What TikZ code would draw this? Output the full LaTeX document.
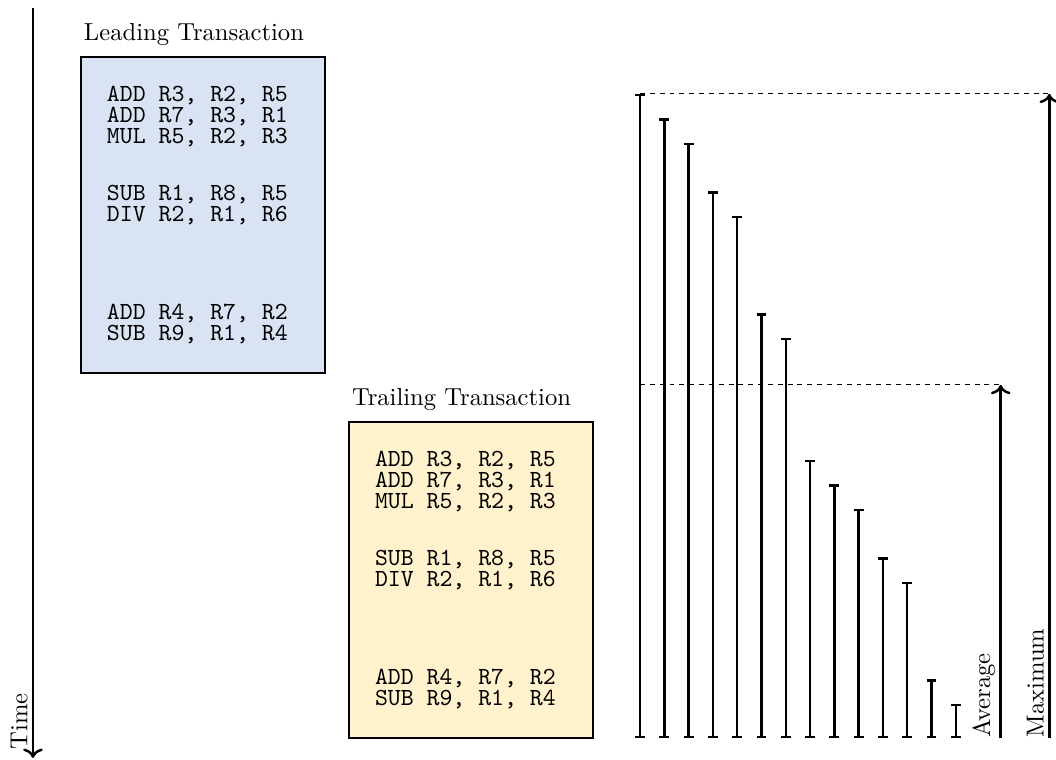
\documentclass[tikz,border=0pt]{standalone}
\usepackage[dvipsnames]{xcolor}
\usetikzlibrary{arrows.meta,positioning}

\definecolor{leadblue}{HTML}{DAE3F3}
\definecolor{trailyellow}{HTML}{FFF2CC}

% same instruction stream in both transactions
\newcommand{\instrlist}{%
  \spaceskip=0.525em\relax
  \baselineskip=8.5pt\lineskiplimit=-\maxdimen
  ADD R3, R2, R5\\
  ADD R7, R3, R1\\
  MUL R5, R2, R3\\[14.8pt]
  SUB R1, R8, R5\\
  DIV R2, R1, R6\\[31.1pt]
  ADD R4, R7, R2\\
  SUB R9, R1, R4\par\vspace{2pt}}

\begin{document}
\begin{tikzpicture}[
    txbox/.style={draw, line width=1pt, text width=2.743cm, inner xsep=0.371cm,
      minimum height=4.514cm, align=left, font=\ttfamily},
    txtitle/.style={inner xsep=1.5pt, inner ysep=4pt},
    gapbar/.style={line width=1pt, {Bar[width=4pt]}-{Bar[width=4pt]}},
    sidelabel/.style={rotate=90, anchor=south west, inner xsep=0pt, inner ysep=2pt}
]
    \useasboundingbox (0,0) rectangle (15.086,10.857);

    % Time axis
    \draw[line width=1pt, ->] (0.471,10.743) -- (0.471,0.029);
    \node[sidelabel] (timelabel) at (0.471,0.143) {Time};

    % Leading and trailing transactions
    \node[txbox, fill=leadblue] (lead) at (2.9,7.786) {\instrlist};
    \node[txtitle, above right=0pt of lead.north west] (leadtitle) {Leading Transaction};
    \node[txbox, fill=trailyellow] (trail) at (6.729,2.571) {\instrlist};
    \node[txtitle, above right=0pt of trail.north west] (trailtitle) {Trailing Transaction};

    % Distance per instruction
    \begin{scope}[shift={(9.143,0.314)}, x=0.347cm, y=0.3486cm]
        \foreach \n [count=\i from 0] in {26,25,24,22,21,17,16,11,10,9,7,6,2,1}
            \draw[gapbar] (\i,0) -- (\i,{\n+0.4});

        \coordinate (avgtop) at (14.85,14.471);
        \coordinate (maxtop) at (16.85,26.4);
        \draw[thin, dash pattern=on 2pt off 2pt] (0,14.471) -- (avgtop);
        \draw[thin, dash pattern=on 2pt off 2pt] (0,26.4) -- (maxtop);
        \draw[line width=1pt, ->] (14.85,0) -- (avgtop);
        \draw[line width=1pt, ->] (16.85,0) -- (maxtop);
        \node[sidelabel] (avglabel) at (14.85,0) {Average};
        \node[sidelabel] (maxlabel) at (16.85,0) {Maximum};
    \end{scope}
\end{tikzpicture}
\end{document}
